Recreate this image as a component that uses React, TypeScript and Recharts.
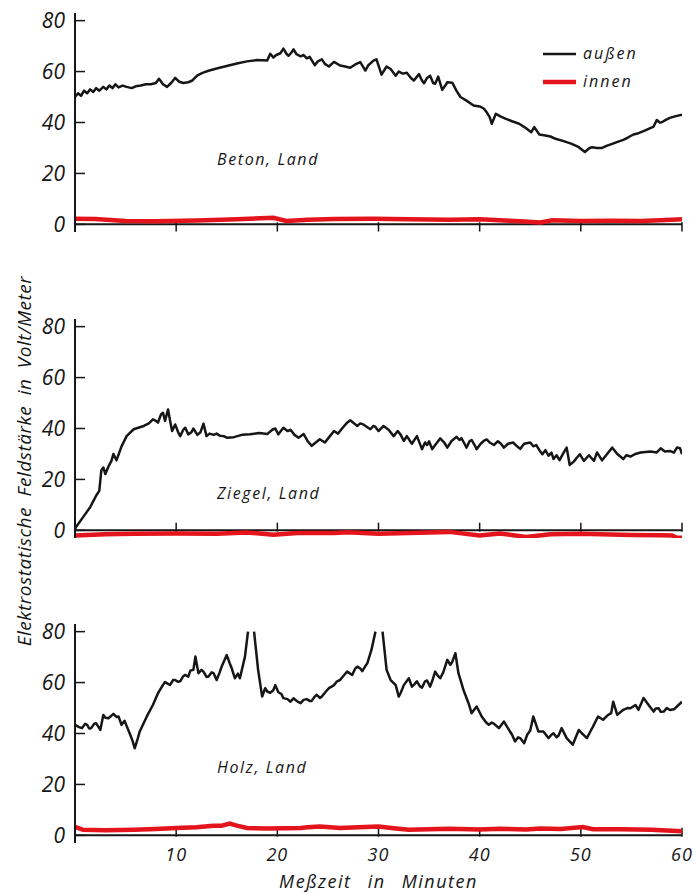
import { Line, LineChart, ReferenceLine, XAxis, YAxis } from "recharts";

type Pt = [number, number | null];

const INK = "#161616";
const RED = "#e3141c";
const FONT = "'Open Sans', 'DejaVu Sans', sans-serif";

const xTicks = [10, 20, 30, 40, 50, 60];
const yTicks = [0, 20, 40, 60, 80];
const seriesNames = ["außen", "innen"];
const panelTitles = ["Beton, Land", "Ziegel, Land", "Holz, Land"];
const yTitle = "Elektrostatische Feldstärke in Volt/Meter";
const xTitle = "Meßzeit in Minuten";

// [Minute, Volt/Meter]
const betonAussen: Pt[] = [
  [0, 50], [0.3, 51.5], [0.6, 50.5], [0.9, 52.5], [1.2, 51.5], [1.5, 53], [1.8, 52], [2.1, 53.5],
  [2.4, 52.5], [2.8, 54], [3.1, 53], [3.4, 54.5], [3.7, 53.5], [4.0, 55], [4.3, 53.8], [4.7, 54.5],
  [5.1, 54], [5.6, 53.5], [6.0, 54.2], [6.5, 54.5], [7.0, 55], [7.5, 55], [8.0, 55.5], [8.3, 57.2],
  [8.7, 55], [9.1, 54], [9.5, 55.5], [9.9, 57.5], [10.3, 56], [10.7, 55.5], [11.2, 55.8], [11.6, 56.5],
  [12.1, 58.5], [12.6, 59.5], [13.2, 60.3], [14.0, 61.2], [15.0, 62.2], [16.0, 63.2], [17.0, 64],
  [18.0, 64.5], [19.0, 64.3], [19.3, 67], [19.6, 65.5], [19.9, 66.5], [20.3, 67.2], [20.6, 69],
  [20.9, 67], [21.1, 66.2], [21.4, 67.5], [21.6, 68.7], [21.9, 66.8], [22.3, 66], [22.6, 66.5],
  [22.9, 65.2], [23.2, 65.8], [23.5, 63.8], [23.7, 62.5], [24.0, 64], [24.4, 64.8], [24.7, 63],
  [25.1, 62], [25.6, 63.8], [26.2, 62.4], [26.7, 62], [27.2, 61.5], [27.7, 62.8], [28.2, 63.7],
  [28.7, 60.4], [29.0, 62.5], [29.5, 64.3], [29.8, 64.8], [30.3, 58.8], [30.8, 62], [31.2, 61],
  [31.7, 58.4], [32.0, 60], [32.4, 59.2], [32.8, 59.5], [33.2, 57.5], [33.5, 56.5], [34.0, 59],
  [34.3, 56.5], [34.5, 55.4], [34.8, 57.5], [35.1, 58.4], [35.4, 55.5], [35.6, 55.2], [35.9, 58],
  [36.3, 52.8], [36.6, 54.5], [36.8, 55.8], [37.3, 55.6], [37.7, 52.5], [38.1, 50], [38.7, 48.6],
  [39.4, 46.7], [40.0, 46.3], [40.4, 45.5], [40.7, 44], [41.0, 42], [41.2, 39.5], [41.6, 43.4],
  [42.1, 42.3], [42.6, 41.4], [43.2, 40.5], [43.9, 39.5], [44.5, 38], [45.1, 36.2], [45.4, 38.2],
  [45.9, 35.3], [46.5, 34.9], [47.0, 34.5], [47.5, 33.6], [48.3, 32.7], [49.1, 31.6], [49.8, 30.3],
  [50.4, 28.4], [50.8, 29.8], [51.1, 30.3], [51.6, 30], [52.1, 30], [52.6, 30.9], [53.1, 31.6],
  [53.7, 32.5], [54.2, 33.2], [54.7, 34.2], [55.2, 35.3], [55.7, 35.8], [56.2, 36.6], [56.7, 37.5],
  [57.2, 38.4], [57.5, 41], [57.8, 40], [58.0, 40.1], [58.4, 41], [58.8, 41.8], [59.3, 42.4], [60, 43.1],
];

const betonInnen: Pt[] = [
  [0, 2.2], [2, 2.1], [5, 1.3], [8, 1.2], [12, 1.5], [16, 2], [19.6, 2.6], [20.9, 1.3], [23, 1.8],
  [25.6, 2.1], [29.5, 2.2], [33, 2], [37, 1.8], [40, 2], [42, 1.6], [44, 1.2], [46, 0.7], [47.2, 1.6],
  [50, 1.3], [53, 1.4], [56, 1.3], [59, 1.8], [60, 2],
];

const ziegelAussen: Pt[] = [
  [0, 0.5], [0.1, 1.3], [0.8, 5.2], [1.5, 9.1], [2.1, 13.7], [2.4, 15.5], [2.6, 23.5], [2.8, 24.7],
  [3.0, 22.1], [3.3, 25], [3.6, 27.3], [3.8, 30], [4.1, 27.5], [4.6, 33], [5.1, 37], [5.8, 39.7],
  [6.8, 41], [7.3, 42], [7.7, 43.6], [8.0, 43], [8.2, 42.3], [8.5, 45.5], [8.7, 46.2], [8.9, 43],
  [9.2, 47.5], [9.4, 43], [9.6, 39], [9.9, 41.6], [10.2, 38.5], [10.4, 37], [10.7, 39.5], [10.9, 40.3],
  [11.2, 37.7], [11.5, 38.5], [11.7, 40], [12.1, 37.5], [12.4, 38.5], [12.7, 41.9], [13.0, 37],
  [13.3, 38], [13.7, 37.5], [14.0, 38], [14.3, 37.2], [14.7, 37], [15.0, 36.4], [15.7, 36.6],
  [16.5, 37.5], [17.3, 37.7], [18.2, 38.2], [19.0, 37.8], [19.5, 39.5], [19.8, 40], [20.1, 37.7],
  [20.6, 40.3], [21.0, 39], [21.3, 39.5], [21.7, 37.5], [22.1, 36.4], [22.6, 37.8], [23.0, 35],
  [23.4, 33.2], [23.8, 34.5], [24.2, 35.8], [24.7, 34.5], [25.2, 37], [25.6, 39], [26.0, 38],
  [26.5, 40.5], [26.9, 42.3], [27.2, 43.2], [27.6, 42], [27.9, 41], [28.2, 42], [28.5, 41.6],
  [28.9, 40.5], [29.2, 39.7], [29.5, 41], [29.7, 40.6], [30.0, 39], [30.5, 41], [31.0, 39.5],
  [31.5, 37], [31.9, 39], [32.2, 37.5], [32.5, 35.1], [32.8, 37], [33.3, 34], [33.8, 37], [34.3, 31.9],
  [34.6, 34.5], [34.8, 33.5], [35.0, 35], [35.3, 31.9], [35.7, 34], [36.1, 36.1], [36.5, 34.5],
  [36.8, 32.5], [37.2, 35], [37.7, 36.7], [38.0, 35.5], [38.2, 36.2], [38.5, 34], [38.7, 32.5],
  [39.0, 35], [39.2, 35.5], [39.5, 33.5], [39.7, 31.9], [40.1, 34], [40.4, 35.1], [40.7, 35.7],
  [41.0, 34.5], [41.4, 33.5], [41.8, 35], [42.1, 34], [42.4, 32.5], [42.8, 34], [43.3, 34.5],
  [43.7, 33], [44.0, 32], [44.4, 34], [45.0, 34.5], [45.3, 33], [45.6, 33.5], [45.9, 31.5],
  [46.2, 29.9], [46.5, 31.5], [46.8, 29.3], [47.1, 30.5], [47.3, 28], [47.6, 29.5], [47.9, 27.6],
  [48.3, 30.5], [48.6, 32.5], [48.9, 25.7], [49.3, 27], [49.6, 28.5], [49.9, 29.9], [50.3, 27.3],
  [50.8, 29.5], [51.3, 27.3], [51.6, 30.6], [52.1, 27.5], [52.6, 30], [53.1, 32.5], [53.6, 30],
  [54.2, 28], [54.5, 29.5], [54.9, 29], [55.4, 30], [55.9, 30.6], [56.4, 30.8], [56.9, 31],
  [57.5, 30.6], [57.9, 32.2], [58.3, 31], [58.8, 31.2], [59.2, 30.5], [59.5, 32.5], [59.8, 32.3],
  [60, 29.9],
];

const ziegelInnen: Pt[] = [
  [0, -2], [3, -1.5], [5.8, -1.3], [10, -1.2], [14, -1.3], [17, -0.8], [19.6, -1.7], [22, -1],
  [25.6, -1], [27, -0.7], [30, -1.3], [33, -1], [37, -0.6], [40, -2], [42, -1.2], [44.6, -2.6],
  [47, -1.5], [49.9, -1.3], [52, -1.5], [55, -1.8], [58, -1.9], [59, -2], [59.5, -2.9], [60, -2.9],
];

// the recorder ran off scale at the two peaks: null leaves the trace open there
const holzAussen: Pt[] = [
  [0, 43.4], [0.4, 42.5], [0.7, 42.1], [1.0, 43.8], [1.2, 43.4], [1.4, 42], [1.6, 42.1], [1.9, 43.8],
  [2.1, 44], [2.5, 41.4], [2.8, 47.3], [3.0, 46.2], [3.3, 46], [3.6, 47], [3.8, 47.7], [4.1, 46.5],
  [4.3, 46.7], [4.6, 43.4], [4.9, 45], [5.1, 43], [5.4, 40.1], [5.7, 37], [5.9, 34.2], [6.2, 38],
  [6.4, 40.8], [7.1, 46.7], [7.7, 51.2], [8.2, 55.8], [8.7, 59.1], [8.9, 60.2], [9.1, 59.7],
  [9.4, 59.1], [9.7, 61], [9.9, 61], [10.2, 60.3], [10.4, 60.5], [10.7, 62.5], [10.9, 63],
  [11.2, 62.3], [11.4, 64.7], [11.7, 65], [11.9, 70.2], [12.2, 63.7], [12.5, 65], [12.7, 64.3],
  [13.0, 62.2], [13.2, 62.4], [13.5, 64], [13.7, 63.7], [14.0, 61], [14.3, 64], [14.5, 66.3],
  [15.0, 70.8], [15.3, 67.5], [15.5, 65.5], [15.8, 61.7], [16.1, 63.5], [16.3, 61.7], [16.8, 70.2],
  [17.1, 80], [17.4, null], [17.7, 80], [18.1, 65], [18.5, 54.5], [18.8, 57.8], [19.0, 56.5],
  [19.3, 56], [19.6, 57], [19.8, 59], [20.1, 56.2], [20.4, 55.5], [20.6, 53.9], [21.0, 53.5],
  [21.3, 52.5], [21.6, 53.8], [21.8, 53.2], [22.0, 52.5], [22.3, 51.9], [22.6, 53.2], [22.9, 53.5],
  [23.2, 52.8], [23.4, 52.8], [23.7, 54.5], [23.9, 55.2], [24.2, 54], [24.4, 54.5], [24.8, 56.5],
  [25.1, 57.8], [25.4, 58.5], [25.6, 59], [25.9, 60.5], [26.2, 61], [26.5, 62.5], [26.9, 64.3],
  [27.2, 63.5], [27.4, 63], [27.7, 65.5], [27.9, 66.3], [28.2, 65.5], [28.4, 64.5], [28.7, 66.5],
  [28.9, 67.6], [29.3, 72.8], [29.7, 80], [30.05, null], [30.4, 80], [30.8, 65], [31.2, 61],
  [31.7, 59], [32.0, 54.5], [32.2, 56], [32.5, 59], [33.0, 61.7], [33.3, 58.4], [33.6, 59.5],
  [33.8, 60.5], [34.1, 58.5], [34.3, 58], [34.6, 60.5], [34.8, 60.8], [35.1, 58.4], [35.3, 60.5],
  [35.6, 64.3], [35.9, 62.5], [36.1, 61.7], [36.4, 64], [36.8, 68.9], [37.1, 67], [37.3, 68.2],
  [37.6, 71.5], [37.9, 63.7], [38.4, 57.1], [38.9, 51.9], [39.2, 48], [39.7, 50.6], [40.2, 46.7],
  [40.6, 44.5], [40.9, 43.4], [41.2, 44.3], [41.4, 43.9], [41.9, 42.1], [42.4, 44.7], [42.9, 41.4],
  [43.2, 39.5], [43.5, 36.9], [43.8, 38.5], [44.0, 38.2], [44.4, 36.2], [44.7, 39.5], [45.0, 41.2],
  [45.3, 46.7], [45.8, 40.8], [46.3, 40.8], [46.8, 38.2], [47.1, 39.5], [47.3, 40.1], [47.6, 38.5],
  [47.8, 39.2], [48.1, 42.1], [48.6, 38.2], [49.2, 35.6], [49.5, 38.5], [49.8, 41.4], [50.1, 40.1],
  [50.6, 38.2], [50.9, 40.5], [51.2, 42.7], [51.7, 46.7], [52.2, 45.4], [52.7, 47.3], [53.0, 48],
  [53.2, 52.5], [53.6, 47.3], [54.2, 49.3], [54.6, 50], [54.9, 49.9], [55.4, 51.2], [55.7, 49.3],
  [56.2, 53.9], [56.7, 51.2], [57.2, 48.6], [57.4, 49.8], [57.7, 49.9], [57.9, 48.5], [58.2, 48.6],
  [58.5, 50], [58.8, 49.2], [59.2, 49.5], [59.5, 50.6], [60, 52.5],
];

const holzInnen: Pt[] = [
  [0, 3.3], [0.8, 2.2], [3, 2], [5.8, 2.2], [8, 2.5], [10, 2.9], [12, 3.2], [13.7, 3.8], [14.5, 3.8],
  [15.3, 4.6], [16, 3.8], [17, 2.9], [19, 2.7], [22.3, 2.9], [23, 3.2], [24.2, 3.5], [26.2, 2.9],
  [28, 3.2], [30, 3.5], [31.5, 2.8], [33, 2.2], [37, 2.6], [40, 2.3], [42, 2.6], [44.6, 2.3],
  [46, 2.7], [48, 2.5], [50.2, 3.3], [51.2, 2.4], [54, 2.4], [57, 2.2], [60, 1.6],
];

const rows = (pts: Pt[]) => pts.map(([t, v]) => ({ t, v }));

const textStyle = { fill: INK, fontFamily: FONT, fontStyle: "italic" as const };

function YTick(props: any) {
  const { x, y, payload } = props;
  return (
    <g>
      <line x1={x + 10} x2={x + 20} y1={y} y2={y} stroke={INK} strokeWidth={1.5} />
      <text x={x} y={y} dy="0.36em" textAnchor="end" fontSize={21} {...textStyle}>
        {payload.value}
      </text>
    </g>
  );
}

type PanelProps = {
  top: number;
  aussen: Pt[];
  innen: Pt[];
  ticksUp: boolean;
  bottom?: boolean;
};

function Panel({ top, aussen, innen, ticksUp, bottom }: PanelProps) {
  const [lo, hi] = ticksUp ? [-0.5, 3] : [-2.8, 0.8];
  return (
    <div style={{ position: "absolute", left: 0, top }}>
      <LineChart
        width={697}
        height={bottom ? 279 : 249}
        margin={{ top: 10, right: 15, bottom: 0, left: 0 }}
      >
        <XAxis
          type="number"
          dataKey="t"
          domain={[0, 60]}
          ticks={xTicks}
          allowDataOverflow
          axisLine={false}
          tickLine={false}
          tickSize={0}
          tickMargin={5}
          height={bottom ? 50 : 20}
          tick={bottom ? { ...textStyle, fontSize: 18, letterSpacing: 1 } : false}
          label={
            bottom
              ? {
                  value: xTitle,
                  position: "insideBottom",
                  offset: 5,
                  style: { ...textStyle, fontSize: 18, letterSpacing: 1.5, wordSpacing: 10 },
                }
              : undefined
          }
        />
        <YAxis
          type="number"
          domain={[-3, 83]}
          ticks={yTicks}
          allowDataOverflow
          width={75}
          axisLine={{ stroke: INK, strokeWidth: 2 }}
          tickLine={false}
          tickSize={0}
          tickMargin={10}
          tick={<YTick />}
        />
        <ReferenceLine y={0} stroke={INK} strokeWidth={2} />
        {xTicks.map((t) => (
          <ReferenceLine
            key={t}
            segment={[
              { x: t, y: lo },
              { x: t, y: hi },
            ]}
            stroke={INK}
            strokeWidth={1.5}
          />
        ))}
        <Line
          data={rows(innen)}
          dataKey="v"
          name={seriesNames[1]}
          type="linear"
          stroke={RED}
          strokeWidth={4.5}
          dot={false}
          isAnimationActive={false}
        />
        <Line
          data={rows(aussen)}
          dataKey="v"
          name={seriesNames[0]}
          type="linear"
          stroke={INK}
          strokeWidth={2.5}
          strokeLinejoin="round"
          dot={false}
          isAnimationActive={false}
        />
      </LineChart>
    </div>
  );
}

export default function App() {
  return (
    <div
      style={{
        position: "absolute",
        left: 0,
        top: 0,
        width: 697,
        height: 894,
        background: "#fff",
      }}
    >
      <Panel top={3} aussen={betonAussen} innen={betonInnen} ticksUp={false} />
      <Panel top={309} aussen={ziegelAussen} innen={ziegelInnen} ticksUp />
      <Panel top={614} aussen={holzAussen} innen={holzInnen} ticksUp bottom />

      <svg
        width={697}
        height={894}
        style={{ position: "absolute", left: 0, top: 0, pointerEvents: "none" }}
      >
        <text
          transform="translate(31,461) rotate(-90)"
          textAnchor="middle"
          fontSize={19}
          letterSpacing={0.5}
          wordSpacing={5}
          {...textStyle}
        >
          {yTitle}
        </text>

        {panelTitles.map((title, i) => (
          <text
            key={title}
            x={217}
            y={[165, 499, 773][i]}
            fontSize={16}
            letterSpacing={1.6}
            {...textStyle}
          >
            {title}
          </text>
        ))}

        {seriesNames.map((name, i) => (
          <g key={name}>
            <line
              x1={543}
              x2={576}
              y1={54 + i * 28}
              y2={54 + i * 28}
              stroke={i === 0 ? INK : RED}
              strokeWidth={i === 0 ? 2.5 : 4.5}
            />
            <text x={583} y={59 + i * 28} fontSize={16} letterSpacing={2} {...textStyle}>
              {name}
            </text>
          </g>
        ))}
      </svg>
    </div>
  );
}
